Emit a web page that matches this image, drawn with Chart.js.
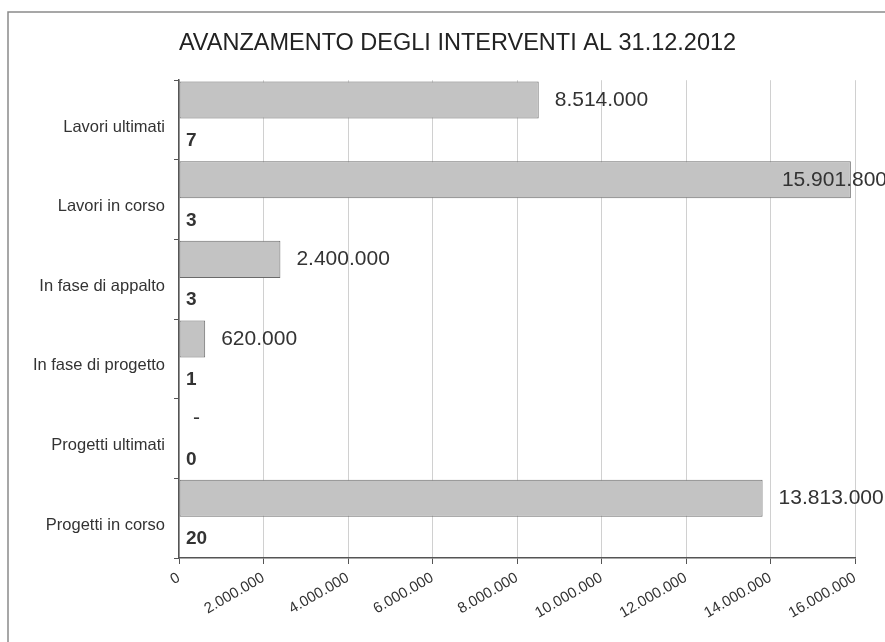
<!DOCTYPE html>
<html>
<head>
<meta charset="utf-8">
<script src="https://cdn.jsdelivr.net/npm/chart.js@4.4.1/dist/chart.umd.min.js"></script>
<style>
  html, body { margin: 0; padding: 0; background: #fff; }
  #wrap { width: 885px; height: 642px; }
</style>
</head>
<body>
<div id="wrap"><canvas id="chart" width="885" height="642"></canvas></div>
<script>
const categories = ["Lavori ultimati", "Lavori in corso", "In fase di appalto", "In fase di progetto", "Progetti ultimati", "Progetti in corso"];
const amounts = [8514000, 15901800, 2400000, 620000, 0, 13813000];
const counts = [7, 3, 3, 1, 0, 20];
const xTicks = [0, 2000000, 4000000, 6000000, 8000000, 10000000, 12000000, 14000000, 16000000];

const FONT = "'Liberation Sans', Arial, sans-serif";

function dots(n) {
    return String(Math.round(n)).replace(/\B(?=(\d{3})+(?!\d))/g, ".");
}

// cornice del grafico + etichette dei valori
const extras = {
    id: "extras",
    beforeDraw(chart) {
        const c = chart.ctx;
        c.save();
        c.strokeStyle = "#8a8a8a";
        c.lineWidth = 1.5;
        c.beginPath();
        c.moveTo(8, chart.height);
        c.lineTo(8, 12);
        c.lineTo(chart.width, 12);
        c.stroke();
        c.restore();
    },
    afterDatasetsDraw(chart) {
        const c = chart.ctx;
        const area = chart.chartArea;
        c.save();
        c.textBaseline = "middle";
        c.fillStyle = "#333";
        c.font = "21px " + FONT;
        chart.getDatasetMeta(0).data.forEach((bar, i) => {
            const txt = amounts[i] === 0 ? "-" : dots(amounts[i]);
            const w = c.measureText(txt).width;
            let x = bar.x + (amounts[i] === 0 ? 14 : 16);
            if (x + w > chart.width + 2) x = chart.width + 2 - w;
            c.fillText(txt, x, bar.y);
        });
        c.font = "bold 19px " + FONT;
        chart.getDatasetMeta(1).data.forEach((bar, i) => {
            c.fillText(String(counts[i]), area.left + 7, bar.y + 1);
        });
        c.restore();
    }
};

new Chart(document.getElementById("chart"), {
    type: "bar",
    data: {
        labels: categories,
        datasets: [
            {
                label: "Importo",
                data: amounts,
                xAxisID: "x",
                backgroundColor: "#c3c3c3",
                borderColor: "#6a6a6a",
                borderWidth: 1,
                borderSkipped: false,
                categoryPercentage: 1,
                barPercentage: 0.93
            },
            {
                label: "Numero",
                data: counts,
                xAxisID: "x2",
                backgroundColor: "rgba(0,0,0,0)",
                borderWidth: 0,
                categoryPercentage: 1,
                barPercentage: 0.93
            }
        ]
    },
    options: {
        indexAxis: "y",
        responsive: false,
        animation: false,
        events: [],
        layout: { padding: { left: 30, right: 0, top: 0, bottom: 0 } },
        plugins: {
            legend: { display: false },
            tooltip: { enabled: false },
            title: {
                display: true,
                text: "AVANZAMENTO DEGLI INTERVENTI AL 31.12.2012",
                color: "#222",
                font: { family: FONT, size: 23.5, weight: "normal" },
                padding: { top: 29, bottom: 23 }
            }
        },
        scales: {
            x: {
                type: "linear",
                position: "bottom",
                min: 0,
                max: 16000000,
                afterBuildTicks(scale) {
                    scale.ticks = xTicks.map(v => ({ value: v }));
                },
                afterFit(scale) { scale.height = 84; },
                ticks: {
                    color: "#333",
                    font: { family: FONT, size: 15 },
                    minRotation: 30,
                    maxRotation: 30,
                    padding: 5,
                    callback: v => dots(v)
                },
                grid: { color: "#d0d0d0", tickColor: "#555", tickLength: 6 },
                border: { color: "#555", width: 1.5 }
            },
            x2: {
                type: "linear",
                display: false,
                min: 0,
                max: 100
            },
            y: {
                type: "category",
                position: "left",
                afterFit(scale) { scale.width = 149; },
                ticks: {
                    color: "#333",
                    font: { family: FONT, size: 16.5 },
                    padding: 9,
                    labelOffset: 7
                },
                grid: { offset: true, drawOnChartArea: false, tickColor: "#555", tickLength: 5 },
                border: { color: "#555", width: 1.5 }
            },
            yr: {
                type: "linear",
                position: "right",
                afterFit(scale) { scale.width = 30; },
                ticks: { display: false },
                grid: { display: false },
                border: { display: false }
            }
        }
    },
    plugins: [extras]
});
</script>
</body>
</html>
